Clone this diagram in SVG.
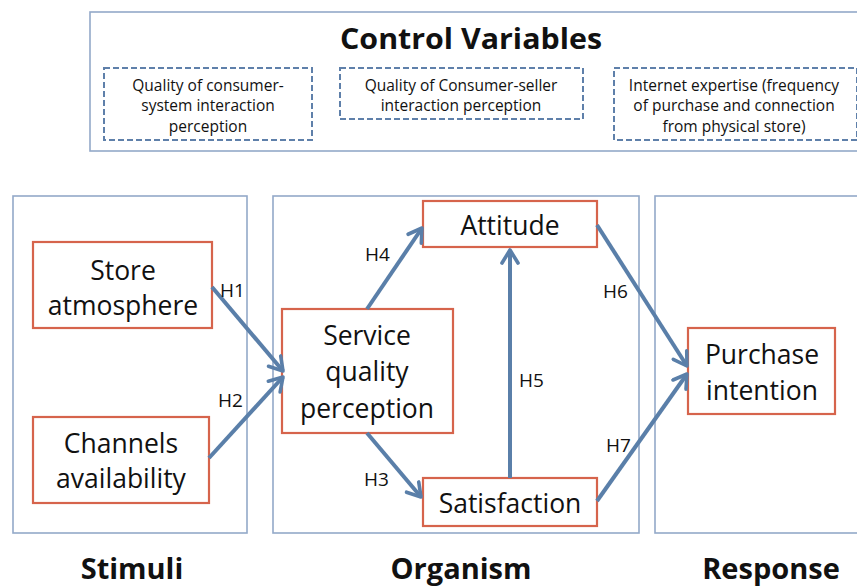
<svg xmlns="http://www.w3.org/2000/svg" width="857" height="587" viewBox="0 0 857 587">
<defs>
<style>
.panel{fill:#fff;stroke:#93A9C9;stroke-width:1.6}
.node{fill:#fff;stroke:#D6644C;stroke-width:2.2}
.dash{fill:#fff;stroke:#5F80AA;stroke-width:2;stroke-dasharray:6 3}
.t{font-family:"Open Sans","Liberation Sans",sans-serif;fill:#111;text-anchor:middle}
.nt{font-size:26.5px}
.st{font-size:15.5px}
.hl{font-family:"Open Sans","Liberation Sans",sans-serif;font-size:19px;fill:#111}
.big{font-family:"Open Sans","Liberation Sans",sans-serif;font-weight:bold;font-size:29px;fill:#111;text-anchor:middle}
.arr{stroke:#5A7FA9;stroke-width:4;fill:none;marker-end:url(#ah)}
</style>
<marker id="ah" markerUnits="userSpaceOnUse" markerWidth="20" markerHeight="20" viewBox="0 0 20 20" refX="17" refY="10" orient="auto">
<path d="M4,2 L17,10 L4,18" fill="none" stroke="#5A7FA9" stroke-width="3.6" stroke-linecap="round" stroke-linejoin="round"/>
</marker>
</defs>
<rect width="857" height="587" fill="#fff"/>
<g id="control-variables">
<rect x="90" y="12" width="775" height="139" class="panel"/>
<text x="471" y="49" class="big" textLength="262" lengthAdjust="spacingAndGlyphs">Control Variables</text>
</g>
<g id="cv1">
<rect x="104" y="68" width="208" height="72" class="dash"/>
<text class="t st" x="208" y="91">Quality of consumer-</text>
<text class="t st" x="208" y="111">system interaction</text>
<text class="t st" x="208" y="132">perception</text>
</g>
<g id="cv2">
<rect x="340" y="68" width="243" height="51" class="dash"/>
<text class="t st" x="461" y="91">Quality of Consumer-seller</text>
<text class="t st" x="461" y="111">interaction perception</text>
</g>
<g id="cv3">
<rect x="614" y="68" width="243" height="72" class="dash"/>
<text class="t st" x="734" y="91">Internet expertise (frequency</text>
<text class="t st" x="734" y="111">of purchase and connection</text>
<text class="t st" x="734" y="132">from physical store)</text>
</g>
<g id="stimuli">
<rect x="13" y="196" width="234" height="337" class="panel"/>
<text x="132" y="579" class="big">Stimuli</text>
</g>
<g id="organism">
<rect x="273" y="196" width="366" height="337" class="panel"/>
<text x="461" y="579" class="big">Organism</text>
</g>
<g id="response">
<rect x="655" y="196" width="215" height="337" class="panel"/>
<text x="771" y="579" class="big">Response</text>
</g>
<g id="store-atmosphere">
<rect x="33" y="242" width="179" height="86" class="node"/>
<text class="t nt" x="123" y="280">Store</text>
<text class="t nt" x="123" y="315">atmosphere</text>
</g>
<g id="channels-availability">
<rect x="33" y="417" width="176" height="86" class="node"/>
<text class="t nt" x="121" y="453">Channels</text>
<text class="t nt" x="121" y="488">availability</text>
</g>
<g id="service-quality">
<rect x="282" y="309" width="171" height="124" class="node"/>
<text class="t nt" x="367" y="345">Service</text>
<text class="t nt" x="367" y="381">quality</text>
<text class="t nt" x="367" y="418">perception</text>
</g>
<g id="attitude">
<rect x="423" y="201" width="174" height="46" class="node"/>
<text class="t nt" x="510" y="235">Attitude</text>
</g>
<g id="satisfaction">
<rect x="423" y="478" width="174" height="48" class="node"/>
<text class="t nt" x="510" y="513">Satisfaction</text>
</g>
<g id="purchase-intention">
<rect x="688" y="328" width="147" height="86" class="node"/>
<text class="t nt" x="762" y="364">Purchase</text>
<text class="t nt" x="762" y="400">intention</text>
</g>
<g id="connectors">
<line class="arr" x1="212" y1="287" x2="283" y2="371"/>
<line class="arr" x1="209" y1="458" x2="283" y2="377"/>
<line class="arr" x1="367" y1="309" x2="422" y2="228"/>
<line class="arr" x1="367" y1="433" x2="421" y2="497"/>
<line class="arr" x1="510" y1="478" x2="510" y2="250"/>
<line class="arr" x1="597" y1="225" x2="687" y2="366"/>
<line class="arr" x1="597" y1="501" x2="687" y2="374"/>
<text class="hl" x="220" y="297">H1</text>
<text class="hl" x="218" y="407">H2</text>
<text class="hl" x="364" y="486">H3</text>
<text class="hl" x="365" y="261">H4</text>
<text class="hl" x="519" y="387">H5</text>
<text class="hl" x="603" y="298">H6</text>
<text class="hl" x="606" y="452">H7</text>
</g>
</svg>
